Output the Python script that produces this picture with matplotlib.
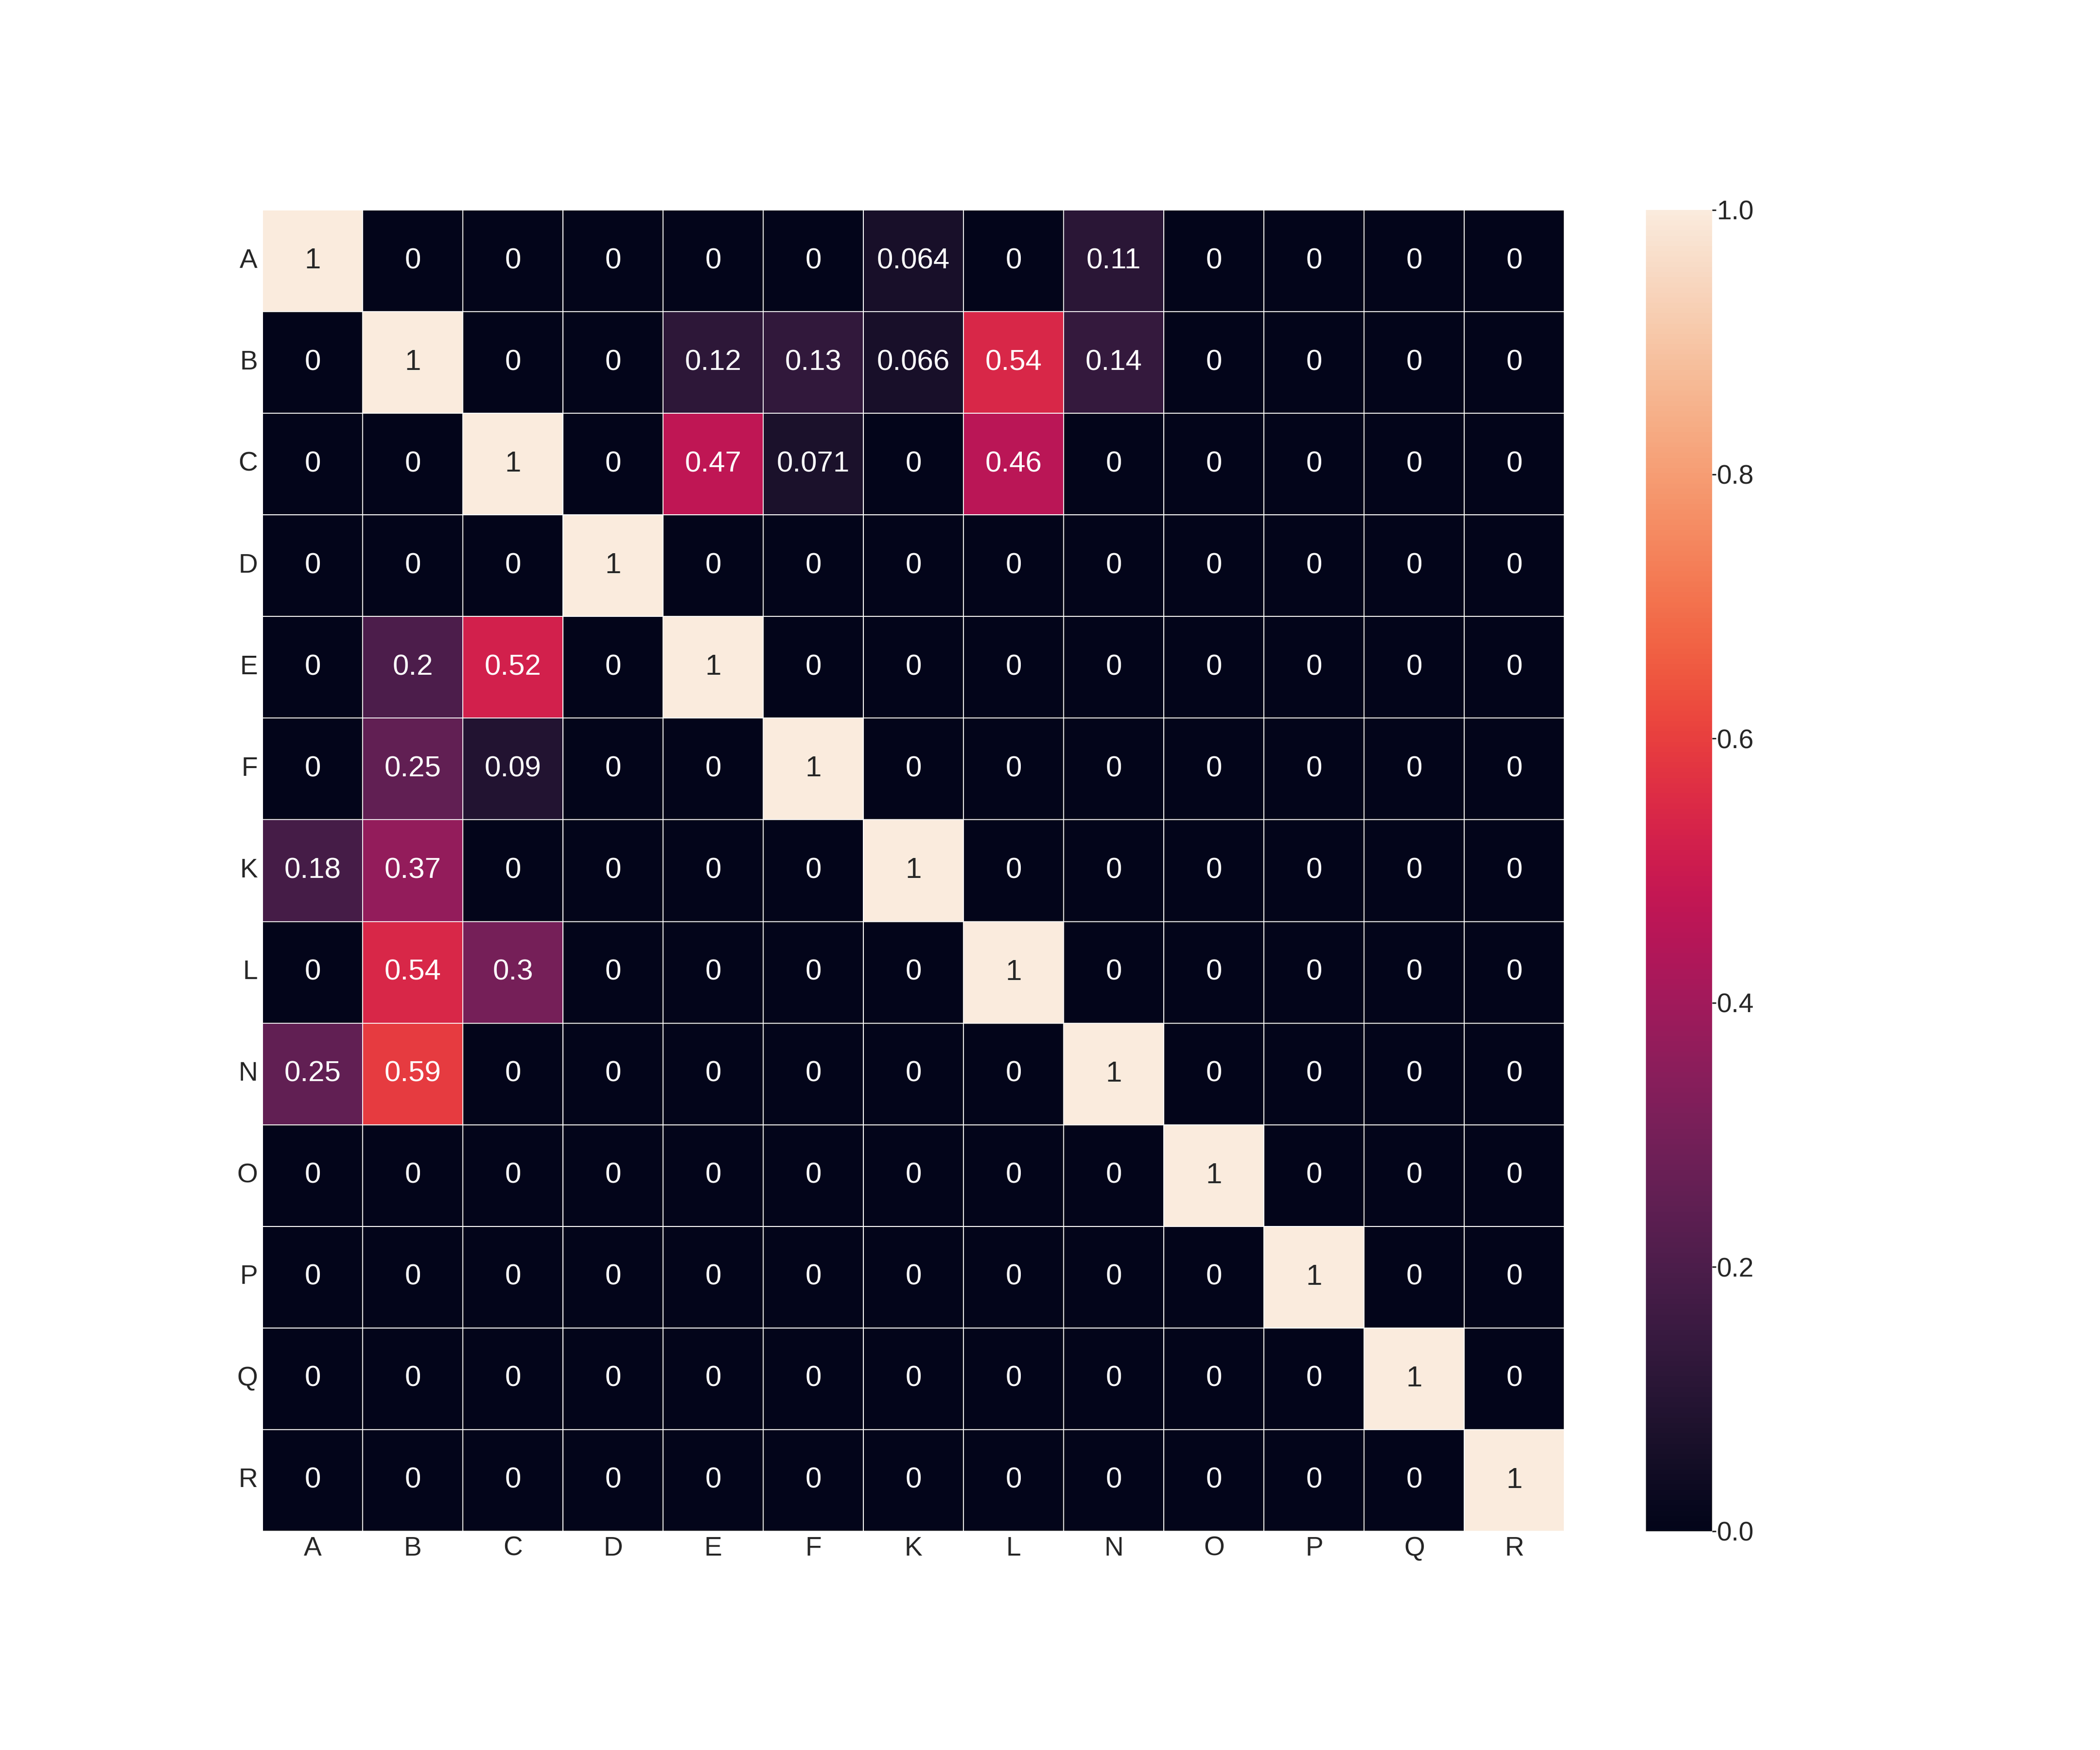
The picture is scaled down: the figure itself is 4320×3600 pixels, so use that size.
import matplotlib
matplotlib.use("Agg")
import matplotlib.pyplot as plt
import numpy as np
import pandas as pd
import seaborn as sns

sns.set_theme(style="white", context="notebook")
plt.rcParams["font.family"] = ["Liberation Sans", "DejaVu Sans"]

labels = ["A", "B", "C", "D", "E", "F", "K", "L", "N", "O", "P", "Q", "R"]

# one row per label, columns in the same order
row_A = [1, 0, 0, 0, 0, 0, 0.064, 0, 0.11, 0, 0, 0, 0]
row_B = [0, 1, 0, 0, 0.12, 0.13, 0.066, 0.54, 0.14, 0, 0, 0, 0]
row_C = [0, 0, 1, 0, 0.47, 0.071, 0, 0.46, 0, 0, 0, 0, 0]
row_D = [0, 0, 0, 1, 0, 0, 0, 0, 0, 0, 0, 0, 0]
row_E = [0, 0.2, 0.52, 0, 1, 0, 0, 0, 0, 0, 0, 0, 0]
row_F = [0, 0.25, 0.09, 0, 0, 1, 0, 0, 0, 0, 0, 0, 0]
row_K = [0.18, 0.37, 0, 0, 0, 0, 1, 0, 0, 0, 0, 0, 0]
row_L = [0, 0.54, 0.3, 0, 0, 0, 0, 1, 0, 0, 0, 0, 0]
row_N = [0.25, 0.59, 0, 0, 0, 0, 0, 0, 1, 0, 0, 0, 0]
row_O = [0, 0, 0, 0, 0, 0, 0, 0, 0, 1, 0, 0, 0]
row_P = [0, 0, 0, 0, 0, 0, 0, 0, 0, 0, 1, 0, 0]
row_Q = [0, 0, 0, 0, 0, 0, 0, 0, 0, 0, 0, 1, 0]
row_R = [0, 0, 0, 0, 0, 0, 0, 0, 0, 0, 0, 0, 1]

rows = [row_A, row_B, row_C, row_D, row_E, row_F, row_K,
        row_L, row_N, row_O, row_P, row_Q, row_R]
df = pd.DataFrame(rows, index=labels, columns=labels)

fig = plt.figure(figsize=(12, 10), dpi=360)
fig.subplots_adjust(left=0.125, right=0.9, top=0.88, bottom=0.125)
ax = fig.add_subplot(111)

sns.heatmap(df, ax=ax, cmap="rocket", vmin=0, vmax=1, annot=True, fmt=".2g",
            annot_kws={"size": 12}, linewidths=0.3, linecolor="white")

ax.tick_params(axis="both", length=0, pad=2, labelsize=11, colors="#262626")
plt.setp(ax.get_yticklabels(), rotation=0)
plt.setp(ax.get_xticklabels(), rotation=0)

cbar = ax.collections[0].colorbar
cbar.set_ticks([0.0, 0.2, 0.4, 0.6, 0.8, 1.0])
cbar.ax.tick_params(length=1.6, width=0.6, pad=0.5, labelsize=11,
                    colors="#262626", right=True)
cbar.outline.set_visible(False)

fig.savefig("out.png", dpi=360, facecolor="white")
